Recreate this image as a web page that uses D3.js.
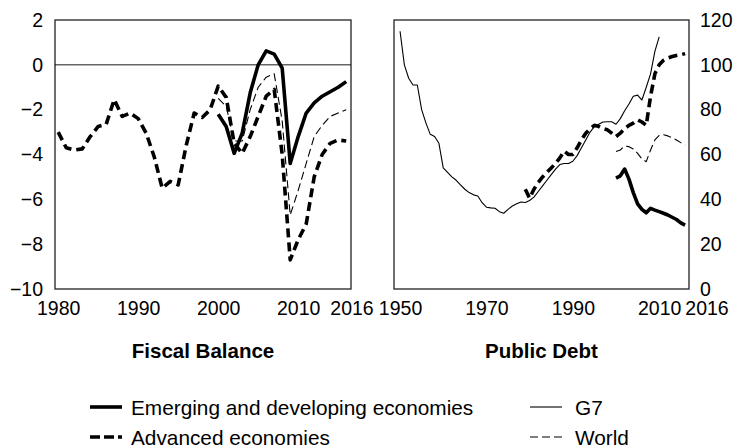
<!DOCTYPE html>
<html>
<head>
<meta charset="utf-8">
<script src="https://cdn.jsdelivr.net/npm/d3@7"></script>
<style>
body { margin: 0; background: #fff; }
text { font-family: "Liberation Sans", Arial, sans-serif; fill: #000; }
</style>
</head>
<body>
<svg id="chart" width="733" height="447"></svg>
<script>
// Fiscal balance, percent of GDP
var fbStart = 1980;
var fbAdvanced = [-3.0, -3.7, -3.8, -3.75, -3.2, -2.75, -2.65, -1.55, -2.3, -2.15,
		  -2.4, -3.05, -4.1, -5.5, -5.2, -5.35, -3.6, -2.15, -2.35, -2.0,
		  -0.95, -1.45, -3.5, -3.95, -3.2, -2.3, -1.4, -1.1, -4.0, -8.7,
		  -7.8, -7.1, -5.0, -4.0, -3.5, -3.35, -3.4];
var fbOtherStart = 2000;
var fbEmerging = [-2.2, -2.75, -3.95, -3.05, -1.25, 0.0, 0.62, 0.48, -0.15, -4.4,
		  -3.2, -2.15, -1.7, -1.4, -1.2, -1.0, -0.75];
var fbWorld = [-1.5, -1.85, -3.4, -3.4, -2.0, -1.0, -0.55, -0.4, -2.5, -6.7,
	       -5.6, -4.4, -3.2, -2.7, -2.3, -2.15, -2.0];

// Public debt, percent of GDP
var pdG7Start = 1950;
var pdG7 = [115, 100, 94, 91, 91, 80, 74, 69, 68, 65,
	    54, 52, 50, 48.5, 46.5, 44.5, 43, 42, 41.5, 38.5,
	    36.5, 36.2, 36, 34.5, 33.8, 35.5, 37, 38, 38.8, 38.6,
	    39.5, 41, 43.5, 46, 48.5, 51, 53.5, 55.5, 56, 56,
	    57, 59.5, 63, 66.5, 70, 72.5, 73.5, 74.5, 74.6, 74.6,
	    73.5, 76, 79.5, 82.5, 86, 86.5, 84.3, 90, 96, 106, 112.5];
var pdAdvStart = 1979;
var pdAdvanced = [44.5, 40.5, 44.5, 47.5, 50, 52, 54, 56, 58.5, 61.5,
		  60, 60, 63, 66.5, 69.5, 71.5, 73, 72.5, 71.5, 71,
		  69.5, 68, 69.5, 71.5, 73, 74, 75.5, 74.5, 73, 86,
		  96, 100, 102, 103, 103.7, 104.2, 104.5, 105];
var pdOtherStart = 2000;
var pdEmerging = [49.5, 50.5, 53.5, 49, 43, 38, 35.5, 34, 36, 35.2,
		  34.5, 33.8, 33, 32, 31, 29.5, 28.5];
var pdWorld = [61.3, 62, 63.8, 63.5, 62.5, 60.5, 58, 56.8, 62, 66.5,
	       68.5, 68.8, 68.3, 67.5, 66.5, 65.3, 64.2];

var fbXTicks = [1980, 1990, 2000, 2010];
var pdXTicks = [1950, 1970, 1990, 2010];
var endLabel = "2016";
var fbYTicks = [2, 0, -2, -4, -6, -8, -10];
var pdYTicks = [0, 20, 40, 60, 80, 100, 120];
var titles = ["Fiscal Balance", "Public Debt"];
var legendNames = ["Emerging and developing economies", "Advanced economies", "G7", "World"];

var styles = {
    emerging: {w: 3.6, dash: null},
    advanced: {w: 3.6, dash: "9,5"},
    g7: {w: 1.1, dash: null},
    world: {w: 1.1, dash: "8,4"}
};

function toPoints(start, vals) {
    return vals.map((v, i) => ({year: start + i, value: v}));
}

var svg = d3.select("#chart");
svg.append("rect").attr("width", 733).attr("height", 447).attr("fill", "#fff");

var plotTop = 20, plotBottom = 289;
var tickFont = "19.5px";

var fbX = d3.scaleLinear([1979.6, 2016.6], [55, 351]);
var fbY = d3.scaleLinear([-10, 2], [plotBottom, plotTop]);
var pdX = d3.scaleLinear([1948.6, 2016.9], [394, 689]);
var pdY = d3.scaleLinear([0, 120], [plotBottom, plotTop]);

function drawPanel(x, y, lines, xTicks, yAxis, title, endX) {
    var g = svg.append("g");
    g.append("g")
	.attr("transform", "translate(0," + plotBottom + ")")
	.call(d3.axisBottom(x).tickValues(xTicks).tickFormat(d3.format("d")).tickSize(0).tickPadding(12))
	.call(a => a.select(".domain").remove())
	.attr("font-family", null)
	.selectAll("text").style("font-size", tickFont);
    g.append("text")
	.attr("x", endX).attr("y", plotBottom + 26)
	.attr("text-anchor", "middle")
	.style("font-size", tickFont)
	.text(endLabel);
    g.append("g")
	.attr("transform", "translate(" + (yAxis.side == "left" ? x.range()[0] : x.range()[1]) + ",0)")
	.call(yAxis.axis.tickSize(0).tickPadding(yAxis.side == "left" ? 12 : 11)
	      .tickFormat(d => d < 0 ? "\u2212" + Math.abs(d) : d))
	.call(a => a.select(".domain").remove())
	.attr("font-family", null)
	.selectAll("text").style("font-size", tickFont);
    var line = d3.line().x(d => x(d.year)).y(d => y(d.value));
    lines.forEach(s => {
	g.append("path")
	    .attr("d", line(s.pts))
	    .attr("fill", "none")
	    .attr("stroke", "#000")
	    .attr("stroke-width", styles[s.key].w)
	    .attr("stroke-dasharray", styles[s.key].dash)
	    .attr("stroke-linejoin", "round");
    });
    g.append("rect")
	.attr("x", x.range()[0]).attr("y", plotTop)
	.attr("width", x.range()[1] - x.range()[0])
	.attr("height", plotBottom - plotTop)
	.attr("fill", "none")
	.attr("stroke", "#222")
	.attr("stroke-width", 1.3);
    g.append("text")
	.attr("x", (x.range()[0] + x.range()[1]) / 2)
	.attr("y", 358)
	.attr("text-anchor", "middle")
	.style("font-size", "20.5px")
	.style("font-weight", "bold")
	.text(title);
    return g;
}

var left = drawPanel(fbX, fbY, [
    {key: "world", pts: toPoints(fbOtherStart, fbWorld)},
    {key: "advanced", pts: toPoints(fbStart, fbAdvanced)},
    {key: "emerging", pts: toPoints(fbOtherStart, fbEmerging)}
], fbXTicks, {side: "left", axis: d3.axisLeft(fbY).tickValues(fbYTicks)}, titles[0], 352);

// zero line
left.append("line")
    .attr("x1", fbX.range()[0]).attr("x2", fbX.range()[1])
    .attr("y1", fbY(0)).attr("y2", fbY(0))
    .attr("stroke", "#000").attr("stroke-width", 0.9);

drawPanel(pdX, pdY, [
    {key: "g7", pts: toPoints(pdG7Start, pdG7)},
    {key: "world", pts: toPoints(pdOtherStart, pdWorld)},
    {key: "advanced", pts: toPoints(pdAdvStart, pdAdvanced)},
    {key: "emerging", pts: toPoints(pdOtherStart, pdEmerging)}
], pdXTicks, {side: "right", axis: d3.axisRight(pdY).tickValues(pdYTicks)}, titles[1], 707);

// legend
var legend = [
    {key: "emerging", x: 90, y: 407},
    {key: "advanced", x: 90, y: 437},
    {key: "g7", x: 530, y: 407},
    {key: "world", x: 530, y: 437}
];
var lg = svg.append("g").selectAll("g").data(legend).join("g")
    .attr("transform", d => "translate(" + d.x + "," + d.y + ")");
lg.append("line")
    .attr("x1", 0).attr("x2", 32)
    .attr("stroke", "#000")
    .attr("stroke-width", d => styles[d.key].w)
    .attr("stroke-dasharray", d => d.key == "advanced" ? "10,4" : styles[d.key].dash);
lg.append("text")
    .attr("x", d => d.x < 300 ? 41 : 45)
    .attr("y", 7.5)
    .style("font-size", "20.8px")
    .text((d, i) => legendNames[i]);
</script>
</body>
</html>
